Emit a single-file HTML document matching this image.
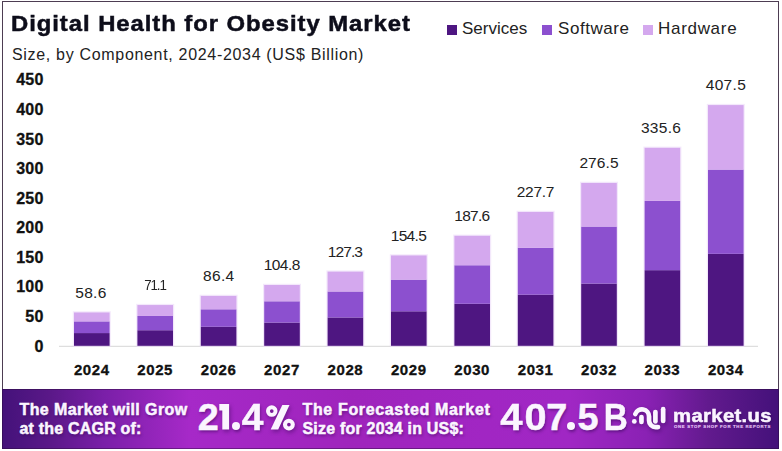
<!DOCTYPE html>
<html><head><meta charset="utf-8"><style>
html,body{margin:0;padding:0;background:#fff;}
body{width:782px;height:451px;position:relative;overflow:hidden;font-family:"Liberation Sans",sans-serif;}
.frame{position:absolute;left:2px;top:1px;width:775px;height:390px;border:1px solid #4d3d52;border-bottom:none;}
.t{position:absolute;white-space:nowrap;line-height:1;}
.title{left:11px;top:12.6px;font-size:22.5px;font-weight:700;color:#0d0d1a;letter-spacing:0.9px;transform:scaleX(1.06);transform-origin:0 0;-webkit-text-stroke:0.5px #0d0d1a;}
.sub{left:12px;top:47px;font-size:16px;color:#222;letter-spacing:0.68px;}
.leg{position:absolute;top:20px;font-size:17px;line-height:1;color:#222;white-space:nowrap;}
.sq{position:absolute;top:25px;width:10px;height:10px;}
.val{position:absolute;width:80px;text-align:center;font-size:15.5px;line-height:1;color:#222;letter-spacing:0.3px;}
.yr{position:absolute;top:362px;width:80px;text-align:center;font-size:15px;font-weight:700;line-height:1;color:#111;letter-spacing:0.6px;-webkit-text-stroke:0.3px #111;}
.yl{position:absolute;left:0;width:43.5px;text-align:right;font-size:16px;font-weight:700;line-height:1;color:#111;letter-spacing:0.2px;-webkit-text-stroke:0.3px #111;}
.banner{position:absolute;left:2px;top:389px;width:777px;height:60px;box-sizing:border-box;border:1px solid rgba(40,12,58,0.45);
 background:linear-gradient(90deg,#44127a 0%,#5a1888 6%,#7a1fa8 13%,#a629c8 24%,#9f24bc 45%,#a126c3 62%,#a027c4 73%,#8a21b4 83%,#621a8e 91%,#44117a 100%);}
.big{top:399px;font-size:37.8px;-webkit-text-stroke:1px #fbf5ff;}
.dot{position:absolute;width:8px;height:8px;border-radius:50%;background:#fbf5ff;box-shadow:1px 2px 3px rgba(40,0,70,0.45);}
.bt{position:absolute;white-space:nowrap;line-height:1;color:#fbf5ff;font-weight:700;text-shadow:1px 2px 3px rgba(40,0,70,0.45);-webkit-text-stroke:0.5px #fbf5ff;}
</style></head><body>
<div class="frame"></div>
<div class="t title">Digital Health for Obesity Market</div>
<div class="t sub">Size, by Component, 2024-2034 (US$ Billion)</div>
<div class="sq" style="left:447px;background:#4e1681"></div>
<div class="leg" style="left:462px">Services</div>
<div class="sq" style="left:542px;background:#8c50cf"></div>
<div class="leg" style="left:558px;letter-spacing:0.55px">Software</div>
<div class="sq" style="left:643px;background:#d4a8ee"></div>
<div class="leg" style="left:658px;letter-spacing:0.7px">Hardware</div>
<svg style="position:absolute;left:0;top:0" width="782" height="451">
<rect x="59" y="345.8" width="699" height="1" fill="#d6d6d6"/>
<rect x="72.80" y="311.27" width="38.0" height="35.73" fill="#e9d6f7" opacity="0.55"/><rect x="74.00" y="333.07" width="35.6" height="12.73" fill="#4e1681"/><rect x="74.00" y="321.40" width="35.6" height="11.67" fill="#8c50cf"/><rect x="74.00" y="312.47" width="35.6" height="8.93" fill="#d4a8ee"/><rect x="136.20" y="303.84" width="38.0" height="43.16" fill="#e9d6f7" opacity="0.55"/><rect x="137.40" y="330.23" width="35.6" height="15.57" fill="#4e1681"/><rect x="137.40" y="315.96" width="35.6" height="14.27" fill="#8c50cf"/><rect x="137.40" y="305.04" width="35.6" height="10.92" fill="#d4a8ee"/><rect x="199.60" y="294.74" width="38.0" height="52.26" fill="#e9d6f7" opacity="0.55"/><rect x="200.80" y="326.75" width="35.6" height="19.05" fill="#4e1681"/><rect x="200.80" y="309.31" width="35.6" height="17.45" fill="#8c50cf"/><rect x="200.80" y="295.94" width="35.6" height="13.36" fill="#d4a8ee"/><rect x="263.00" y="283.81" width="38.0" height="63.19" fill="#e9d6f7" opacity="0.55"/><rect x="264.20" y="322.58" width="35.6" height="23.22" fill="#4e1681"/><rect x="264.20" y="301.30" width="35.6" height="21.28" fill="#8c50cf"/><rect x="264.20" y="285.01" width="35.6" height="16.29" fill="#d4a8ee"/><rect x="326.40" y="270.43" width="38.0" height="76.57" fill="#e9d6f7" opacity="0.55"/><rect x="327.60" y="317.47" width="35.6" height="28.33" fill="#4e1681"/><rect x="327.60" y="291.51" width="35.6" height="25.96" fill="#8c50cf"/><rect x="327.60" y="271.63" width="35.6" height="19.88" fill="#d4a8ee"/><rect x="389.80" y="254.27" width="38.0" height="92.73" fill="#e9d6f7" opacity="0.55"/><rect x="391.00" y="311.29" width="35.6" height="34.51" fill="#4e1681"/><rect x="391.00" y="279.67" width="35.6" height="31.62" fill="#8c50cf"/><rect x="391.00" y="255.47" width="35.6" height="24.21" fill="#d4a8ee"/><rect x="453.20" y="234.59" width="38.0" height="112.41" fill="#e9d6f7" opacity="0.55"/><rect x="454.40" y="303.78" width="35.6" height="42.02" fill="#4e1681"/><rect x="454.40" y="265.27" width="35.6" height="38.50" fill="#8c50cf"/><rect x="454.40" y="235.79" width="35.6" height="29.48" fill="#d4a8ee"/><rect x="516.60" y="210.76" width="38.0" height="136.24" fill="#e9d6f7" opacity="0.55"/><rect x="517.80" y="294.67" width="35.6" height="51.13" fill="#4e1681"/><rect x="517.80" y="247.83" width="35.6" height="46.85" fill="#8c50cf"/><rect x="517.80" y="211.96" width="35.6" height="35.87" fill="#d4a8ee"/><rect x="580.00" y="181.75" width="38.0" height="165.25" fill="#e9d6f7" opacity="0.55"/><rect x="581.20" y="283.59" width="35.6" height="62.21" fill="#4e1681"/><rect x="581.20" y="226.59" width="35.6" height="57.00" fill="#8c50cf"/><rect x="581.20" y="182.95" width="35.6" height="43.64" fill="#d4a8ee"/><rect x="643.40" y="146.62" width="38.0" height="200.38" fill="#e9d6f7" opacity="0.55"/><rect x="644.60" y="270.17" width="35.6" height="75.63" fill="#4e1681"/><rect x="644.60" y="200.88" width="35.6" height="69.29" fill="#8c50cf"/><rect x="644.60" y="147.82" width="35.6" height="53.06" fill="#d4a8ee"/><rect x="706.80" y="103.88" width="38.0" height="243.12" fill="#e9d6f7" opacity="0.55"/><rect x="708.00" y="253.85" width="35.6" height="91.95" fill="#4e1681"/><rect x="708.00" y="169.59" width="35.6" height="84.25" fill="#8c50cf"/><rect x="708.00" y="105.08" width="35.6" height="64.51" fill="#d4a8ee"/>
</svg>
<div class="val" style="left:50.95px;top:284.57px;letter-spacing:0.3px;">58.6</div><div class="yr" style="left:51.80px">2024</div><div class="val" style="left:114.55px;top:277.14px;letter-spacing:-1.3px;transform:scaleX(0.86);">71.1</div><div class="yr" style="left:115.20px">2025</div><div class="val" style="left:178.75px;top:268.04px;letter-spacing:0.3px;">86.4</div><div class="yr" style="left:178.60px">2026</div><div class="val" style="left:241.72px;top:257.11px;letter-spacing:-0.55px;">104.8</div><div class="yr" style="left:242.00px">2027</div><div class="val" style="left:304.95px;top:243.73px;letter-spacing:-0.9px;">127.3</div><div class="yr" style="left:305.40px">2028</div><div class="val" style="left:368.45px;top:227.57px;letter-spacing:-0.7px;">154.5</div><div class="yr" style="left:368.80px">2029</div><div class="val" style="left:431.82px;top:207.89px;letter-spacing:-0.75px;">187.6</div><div class="yr" style="left:432.20px">2030</div><div class="val" style="left:495.47px;top:184.06px;letter-spacing:-0.25px;">227.7</div><div class="yr" style="left:495.60px">2031</div><div class="val" style="left:559.05px;top:155.05px;letter-spacing:0.1px;">276.5</div><div class="yr" style="left:559.00px">2032</div><div class="val" style="left:621.05px;top:119.92px;letter-spacing:0.3px;">335.6</div><div class="yr" style="left:622.40px">2033</div><div class="val" style="left:685.95px;top:77.18px;letter-spacing:0.3px;">407.5</div><div class="yr" style="left:685.80px">2034</div>
<div class="yl" style="top:72.40px">450</div><div class="yl" style="top:101.98px">400</div><div class="yl" style="top:131.56px">350</div><div class="yl" style="top:161.14px">300</div><div class="yl" style="top:190.72px">250</div><div class="yl" style="top:220.30px">200</div><div class="yl" style="top:249.88px">150</div><div class="yl" style="top:279.46px">100</div><div class="yl" style="top:309.04px">50</div><div class="yl" style="top:338.62px">0</div>
<div class="banner"></div>
<div class="bt" style="left:19.5px;top:402px;font-size:16px;letter-spacing:0.4px">The Market will Grow</div>
<div class="bt" style="left:19.5px;top:421px;font-size:16px;letter-spacing:0.2px">at the CAGR of:</div>
<div class="bt big" style="left:197.79px;transform:scale(1,1);transform-origin:10.41px 32px">2</div><div class="bt big" style="left:242.10px;transform:scale(1.03,1);transform-origin:10.70px 32px">4</div>
<svg style="position:absolute;left:0;top:0;filter:drop-shadow(1px 2px 2px rgba(40,0,70,0.45))" width="782" height="451">
<circle cx="271.75" cy="411.1" r="3.8" fill="none" stroke="#fbf5ff" stroke-width="3.9"/>
<circle cx="288.9" cy="424.6" r="3.9" fill="none" stroke="#fbf5ff" stroke-width="4.1"/>
<polygon points="219.3,404.1 229.1,404.1 229.1,429.6 222.3,429.6 222.3,410.5 219.3,410.5" fill="#fbf5ff"/>
<polygon points="282.3,404.9 289.5,404.9 278.2,429.6 270.7,429.6" fill="#fbf5ff"/>
</svg>
<div class="dot" style="left:232px;top:422.3px"></div>
<div class="dot" style="left:566.8px;top:422px"></div>
<div class="bt" style="left:302.5px;top:402px;font-size:16px;letter-spacing:0.65px">The Forecasted Market</div>
<div class="bt" style="left:302.5px;top:421px;font-size:16px;letter-spacing:0.2px">Size for 2034 in US$:</div>
<div class="bt big" style="left:501.40px;transform:scale(1.06,1);transform-origin:10.70px 32px">4</div><div class="bt big" style="left:524.52px;transform:scale(1.05,1);transform-origin:10.48px 32px">0</div><div class="bt big" style="left:546.21px;transform:scale(1,1);transform-origin:10.49px 32px">7</div><div class="bt big" style="left:577.38px;transform:scale(1,1);transform-origin:10.57px 32px">5</div><div class="bt big" style="left:602.39px;transform:scale(0.88,1);transform-origin:14.06px 32px">B</div>
<svg style="position:absolute;left:0;top:0;filter:drop-shadow(1px 2px 2px rgba(40,0,70,0.45))" width="782" height="451">
<g fill="none" stroke="#fbf5ff" stroke-width="4.7" stroke-linecap="round">
<path d="M635.3 414.05 A7.1 7.1 0 0 1 649.05 416.55 L649.05 420.6 A6.5 6.5 0 0 0 655.55 427.1 L658 427.1"/>
<path d="M641.45 417 L641.45 421.9"/>
<path d="M655.4 412 L655.4 421.5"/>
<path d="M663.15 409.2 L663.15 420.9"/>
</g>
<circle cx="634.3" cy="421.4" r="2.4" fill="#fbf5ff"/>
</svg>
<div class="bt" style="left:673px;top:405.5px;font-size:19px;letter-spacing:0.3px;transform:scaleX(1.07);transform-origin:0 0">market.us</div>
<div class="bt" style="left:674px;top:425px;font-size:4.3px;letter-spacing:0.68px;color:#e4c4f4;text-shadow:none;-webkit-text-stroke:0.15px #e4c4f4">ONE STOP SHOP FOR THE REPORTS</div>
</body></html>
